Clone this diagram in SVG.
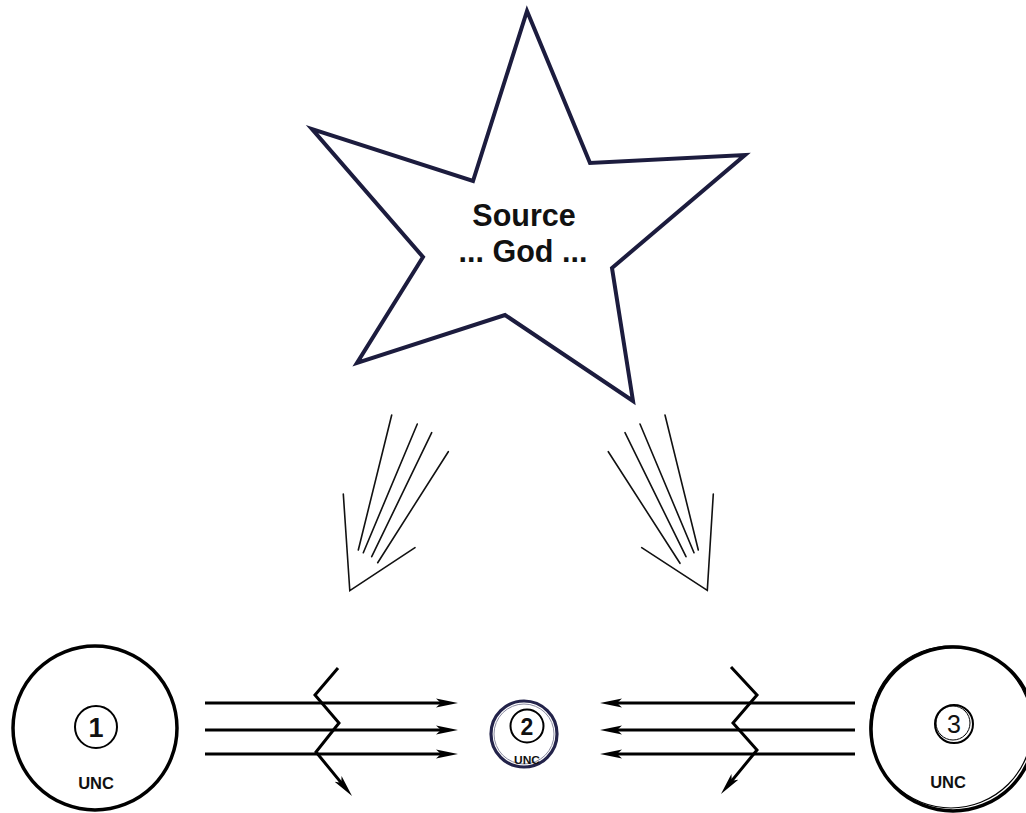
<svg xmlns="http://www.w3.org/2000/svg" width="1026" height="813" viewBox="0 0 1026 813">
<style>
  text { font-family: "Liberation Sans", Arial, sans-serif; fill: #111; text-anchor: middle; }
  .bold { font-weight: bold; }
  .star { fill: #fff; stroke: #1c1c3e; stroke-width: 4; stroke-linejoin: miter; }
  .ray { stroke: #111; stroke-width: 1.6; fill: none; stroke-linecap: round; }
  .flow { stroke: #000; stroke-width: 3; fill: none; }
  .outer { fill: #fff; stroke: #000; stroke-width: 3.5; }
  .inner { fill: none; stroke: #000; stroke-width: 2; }
</style>
<defs>
  <marker id="ah" markerUnits="userSpaceOnUse" markerWidth="24" markerHeight="12" refX="6" refY="5" orient="auto">
    <path d="M0,0.5 L22,5 L0,9.5 L5,5 Z" fill="#000"/>
  </marker>
</defs>
<rect x="0" y="0" width="1026" height="813" fill="#fff"/>

<g id="source">
  <polygon class="star" points="527,11 590,163 745,155 612,268 633,401 505,315 357,363 423,257 312,129 473,181"/>
  <text class="bold" x="524" y="226" font-size="30.5">Source</text>
  <text class="bold" x="523" y="262" font-size="30.5">... God ...</text>
</g>

<g id="unc1">
  <circle class="outer" cx="95" cy="728" r="82"/>
  <circle class="inner" cx="96" cy="727" r="21"/>
  <text class="bold" x="96" y="737" font-size="27">1</text>
  <text class="bold" x="96" y="789" font-size="16.5">UNC</text>
</g>

<g id="unc2">
  <circle cx="524" cy="734" r="33" fill="#fff" stroke="#23234a" stroke-width="3.2"/>
  <circle cx="524" cy="734" r="30" fill="none" stroke="#8a8aa0" stroke-width="1"/>
  <circle class="inner" cx="527" cy="726" r="16.5"/>
  <text class="bold" x="527" y="734.5" font-size="23">2</text>
  <text class="bold" x="527" y="764" font-size="11" textLength="26" lengthAdjust="spacingAndGlyphs">UNC</text>
</g>

<g id="unc3">
  <circle class="outer" cx="953" cy="729" r="82"/>
  <circle cx="951" cy="727" r="81" fill="none" stroke="#000" stroke-width="1.2"/>
  <circle class="inner" cx="954" cy="724" r="19"/>
  <circle cx="953" cy="723" r="17" fill="none" stroke="#000" stroke-width="1"/>
  <text x="954" y="733" font-size="25">3</text>
  <text class="bold" x="948" y="788" font-size="16.5">UNC</text>
</g>

<g id="connectors">
  <!-- rays left -->
  <line class="ray" x1="391.7" y1="415" x2="358.3" y2="550"/>
  <line class="ray" x1="417.3" y1="424" x2="363.3" y2="552.7"/>
  <line class="ray" x1="431.7" y1="432.7" x2="371.7" y2="556.7"/>
  <line class="ray" x1="448.3" y1="451.7" x2="377.7" y2="562.7"/>
  <polyline class="ray" points="343.3,494 349.8,590.7 415,547.7"/>
  <!-- rays right -->
  <line class="ray" x1="608.3" y1="451.7" x2="680" y2="563.3"/>
  <line class="ray" x1="625" y1="432.7" x2="686" y2="556.7"/>
  <line class="ray" x1="640" y1="424" x2="694" y2="552.7"/>
  <line class="ray" x1="665" y1="415" x2="698.3" y2="550"/>
  <polyline class="ray" points="713.3,494 707.3,590.3 641.7,547.7"/>

  <!-- left flows -->
  <line class="flow" x1="205" y1="703" x2="442" y2="703" marker-end="url(#ah)"/>
  <line class="flow" x1="205" y1="730" x2="442" y2="730" marker-end="url(#ah)"/>
  <line class="flow" x1="205" y1="754" x2="442" y2="754" marker-end="url(#ah)"/>
  <polyline class="flow" points="338,668 315,695 339,723 316,752 341.9,783.6" marker-end="url(#ah)"/>

  <!-- right flows -->
  <line class="flow" x1="855" y1="703" x2="616" y2="703" marker-end="url(#ah)"/>
  <line class="flow" x1="855" y1="730" x2="616" y2="730" marker-end="url(#ah)"/>
  <line class="flow" x1="855" y1="754" x2="616" y2="754" marker-end="url(#ah)"/>
  <polyline class="flow" points="731,667 757,695 733,723 757,750 731.1,781.6" marker-end="url(#ah)"/>
</g>
</svg>
